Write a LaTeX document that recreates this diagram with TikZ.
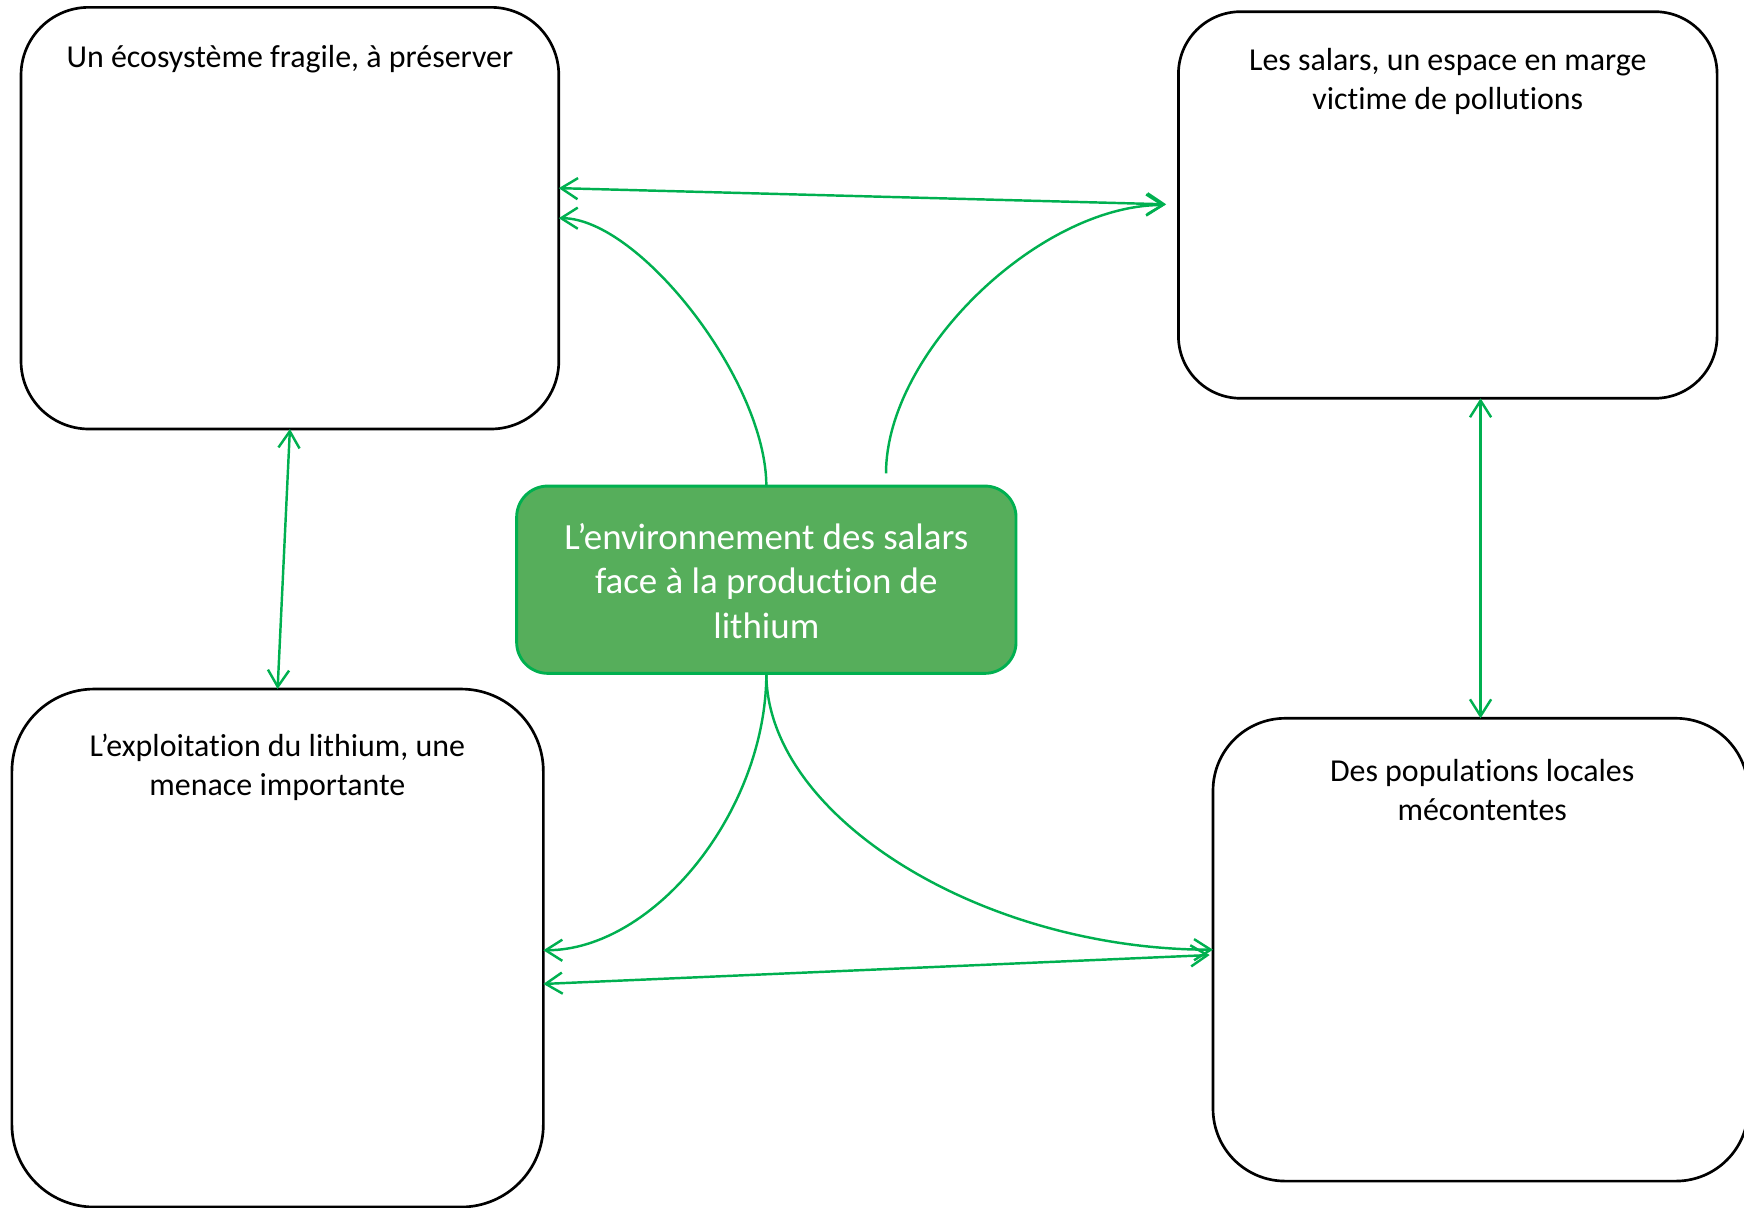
\documentclass[tikz,border=0pt]{standalone}
\usepackage{fontspec}
\setmainfont{Carlito}[Ligatures={NoCommon}]
\usetikzlibrary{arrows.meta,calc}
\definecolor{linkgreen}{RGB}{0,176,80}
\definecolor{corefill}{RGB}{86,174,91}
\begin{document}
\begin{tikzpicture}[x=0.5pt,y=-0.5pt,
  >={Straight Barb[length=7.5pt,width=9.5pt]},
  themebox/.style={draw=black, line width=1.2pt, fill=white,
    rounded corners=#1, inner sep=0pt, outer sep=0pt},
  corebox/.style={draw=linkgreen, line width=1.3pt, fill=corefill,
    rounded corners=14pt, inner sep=0pt, outer sep=0pt,
    minimum width=224.5pt, minimum height=84.2pt},
  boxlabel/.style={anchor=base, inner sep=0pt,
    font=\fontsize{14.35pt}{17.5pt}\selectfont},
  corelabel/.style={anchor=base, inner sep=0pt, text=white,
    font=\fontsize{16.6pt}{20pt}\selectfont},
  link/.style={draw=linkgreen, line width=1.1pt}
]
\useasboundingbox (0,0) rectangle (1568,1086);

% the four theme boxes
\node[themebox=30.5pt, minimum width=241.75pt, minimum height=189.55pt]
  (A) at (260.65,196.15) {};
\node[themebox=28pt, minimum width=242.15pt, minimum height=173.8pt]
  (B) at (1301.65,184.3) {};
\node[themebox=37pt, minimum width=238.9pt, minimum height=232.85pt]
  (C) at (249.6,852.35) {};
\node[themebox=32.5pt, minimum width=240.55pt, minimum height=208.05pt]
  (D) at (1331.15,853.85) {};

% central topic
\node[corebox] (E) at (689,521.2) {};

% box titles
\node[boxlabel] (Atxt) at (260.6,61) {Un écosystème fragile, à préserver};
\node[boxlabel] (Btxt) at (1301.7,63.5)
  {\begin{tabular}[t]{@{}c@{}}Les salars, un espace en marge\\victime de pollutions\end{tabular}};
\node[boxlabel] (Ctxt) at (249.4,680)
  {\begin{tabular}[t]{@{}c@{}}L’exploitation du lithium, une\\menace importante\end{tabular}};
\node[boxlabel] (Dtxt) at (1332.6,702.5)
  {\begin{tabular}[t]{@{}c@{}}Des populations locales\\mécontentes\end{tabular}};
\node[corelabel] (Etxt) at (689,494)
  {\begin{tabular}[t]{@{}c@{}}L’environnement des salars\\face à la production de\\lithium\end{tabular}};

% connector end points
\coordinate (Bfree) at (796.6,425.6);
\coordinate (Bin) at ($(B.west)+(-12,0)$);
\coordinate (Cin) at ($(C.east)+(0,2)$);

% straight two-way links between the boxes
\draw[link,<->] ($(A.east)+(0,-27)$) -- ($(B.west)+(-11,-0.6)$);
\draw[link,<->] (A.south) -- (C.north);
\draw[link,<->] (B.south -| D.north) -- (D.north);
\draw[link,<->] ($(C.east)+(0,32.3)$) -- ($(D.west)+(-3,4.8)$);

% curved links leaving the central topic
\draw[link,->] (E.north) .. controls ($(E.north)+(0,-94.5)$) and ($(A.east)+(72.3,0)$) .. (A.east);
\draw[link,->] (Bfree) .. controls ($(Bfree)+(0,-108.9)$) and ($(Bin)+(-113,0)$) .. (Bin);
\draw[link,->] (E.south) .. controls ($(E.south)+(0,124)$) and ($(Cin)+(99.5,0)$) .. (Cin);
\draw[link,->] (E.south) .. controls ($(E.south)+(0,129)$) and ($(D.west)+(-207.7,0)$) .. (D.west);
\end{tikzpicture}
\end{document}
